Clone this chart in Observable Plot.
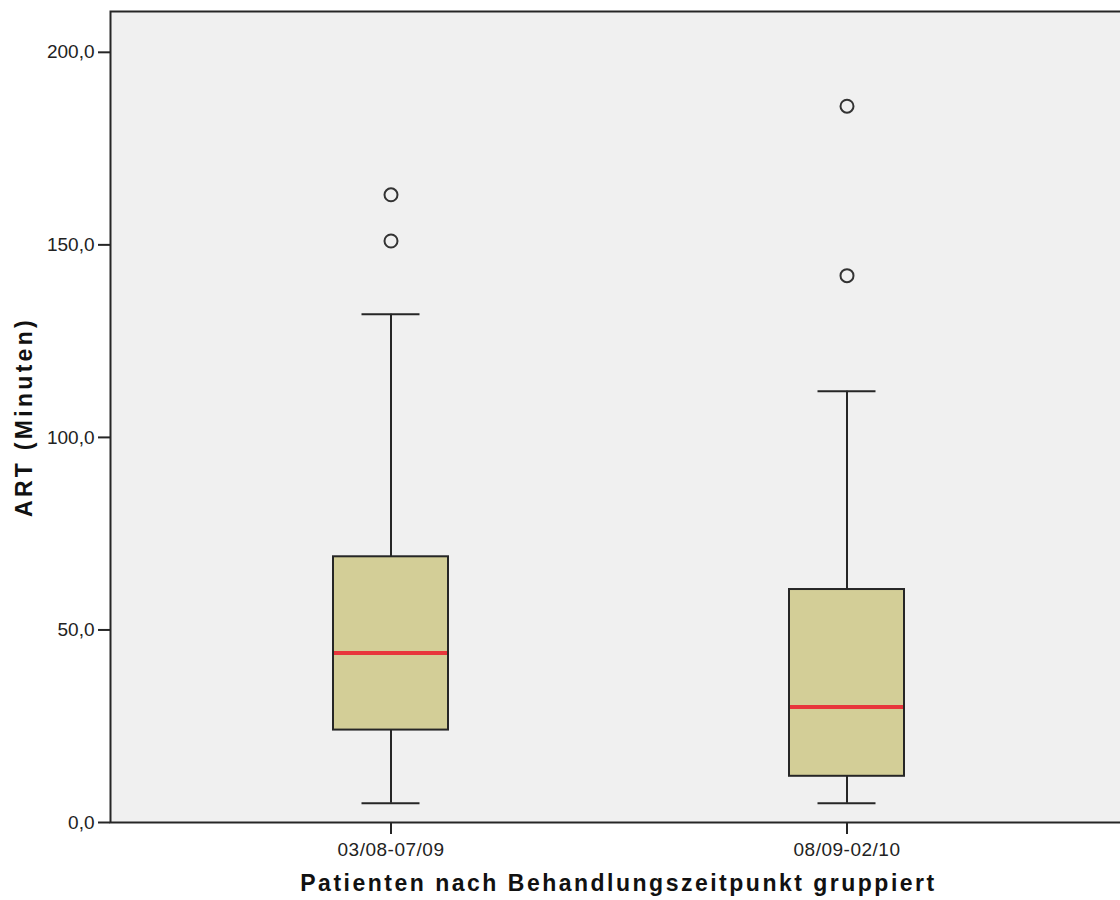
<!DOCTYPE html>
<html>
<head>
<meta charset="utf-8">
<script src="https://cdn.jsdelivr.net/npm/d3@7"></script>
<script src="https://cdn.jsdelivr.net/npm/@observablehq/plot@0.6"></script>
<style>
  html, body { margin: 0; padding: 0; background: #ffffff; overflow: hidden; }
  #chart svg { display: block; }
  g[aria-label="y-axis label"] text,
  g[aria-label="x-axis label"] text {
    font-family: "Liberation Sans", Arial, sans-serif;
    font-weight: bold;
    font-size: 23px;
    fill: #111;
  }
  g[aria-label="y-axis label"] text { letter-spacing: 3.3px; }
  g[aria-label="x-axis label"] text { letter-spacing: 2.5px; }
  g[aria-label="x-axis tick label"] text { letter-spacing: 0.5px; }
</style>
</head>
<body>
<div id="chart"></div>
<script>
// Treatment period groups
const groups = ["03/08-07/09", "08/09-02/10"];

// Box plot summary per group (ART in minutes)
const whiskerLow = [5, 5];
const quartile1 = [24, 12];
const medians = [44, 30];
const quartile3 = [69, 60.5];
const whiskerHigh = [132, 112];

// Outlying cases per group
const outlierGroups = ["03/08-07/09", "03/08-07/09", "08/09-02/10", "08/09-02/10"];
const outlierValues = [163, 151, 186, 142];

// Y-axis ticks
const yTicks = [0, 50, 100, 150, 200];

const boxes = groups.map((g, i) => ({
  group: g,
  lo: whiskerLow[i],
  q1: quartile1[i],
  median: medians[i],
  q3: quartile3[i],
  hi: whiskerHigh[i]
}));
const outliers = outlierGroups.map((g, i) => ({group: g, value: outlierValues[i]}));

const ink = "#262626";

const chart = Plot.plot({
  width: 1120,
  height: 900,
  marginLeft: 110,
  marginRight: -6,
  marginTop: 11,
  marginBottom: 78,
  style: {fontFamily: "'Liberation Sans', Arial, sans-serif", background: "#ffffff", color: "#222"},
  x: {domain: groups, paddingInner: 0.748, paddingOuter: 0.4856},
  y: {domain: [0, 210.6]},
  marks: [
    Plot.frame({fill: "#f0f0f0"}),
    // whiskers
    Plot.ruleX(boxes, {x: "group", y1: "q3", y2: "hi", stroke: ink, strokeWidth: 2}),
    Plot.ruleX(boxes, {x: "group", y1: "lo", y2: "q1", stroke: ink, strokeWidth: 2}),
    Plot.tickY(boxes, {x: "group", y: "hi", stroke: ink, strokeWidth: 2, insetLeft: 28.5, insetRight: 28.5}),
    Plot.tickY(boxes, {x: "group", y: "lo", stroke: ink, strokeWidth: 2, insetLeft: 28.5, insetRight: 28.5}),
    // interquartile boxes
    Plot.barY(boxes, {x: "group", y1: "q1", y2: "q3", fill: "#d3ce97", stroke: ink, strokeWidth: 2}),
    // medians
    Plot.tickY(boxes, {x: "group", y: "median", stroke: "#e8363b", strokeWidth: 4, insetLeft: 1, insetRight: 1}),
    // outliers
    Plot.dot(outliers, {x: "group", y: "value", r: 6.5, stroke: "#333", strokeWidth: 2, fill: "none"}),
    Plot.frame({stroke: ink, strokeWidth: 2}),
    Plot.axisY({
      ticks: yTicks,
      tickFormat: d => d.toFixed(1).replace(".", ","),
      tickSize: 12,
      tickPadding: 4,
      fontSize: 19,
      stroke: ink,
      strokeWidth: 2,
      label: "ART (Minuten)",
      labelAnchor: "center",
      labelArrow: "none",
      labelOffset: 95
    }),
    Plot.axisX({
      tickSize: 12,
      tickPadding: 8,
      fontSize: 19,
      stroke: ink,
      strokeWidth: 2,
      label: "Patienten nach Behandlungszeitpunkt gruppiert",
      labelAnchor: "center",
      labelArrow: "none",
      labelOffset: 68
    })
  ]
});

document.getElementById("chart").appendChild(chart);
</script>
</body>
</html>
